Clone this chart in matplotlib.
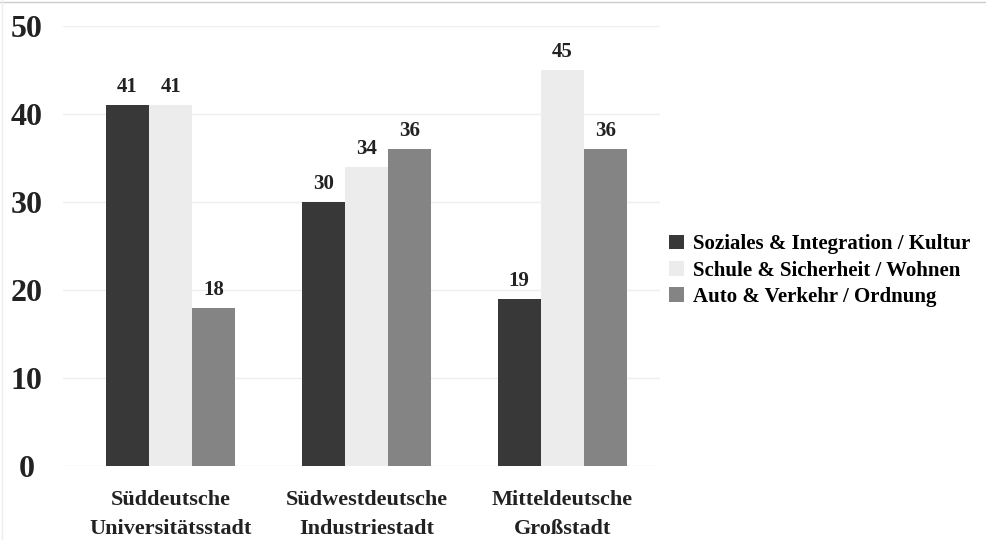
import numpy as np
import matplotlib.pyplot as plt
from matplotlib.patches import Patch

# Daten
staedte = ["Süddeutsche\nUniversitätsstadt", "Südwestdeutsche\nIndustriestadt", "Mitteldeutsche\nGroßstadt"]
serien = ["Soziales & Integration / Kultur", "Schule & Sicherheit / Wohnen", "Auto & Verkehr / Ordnung"]
soziales = [41, 30, 19]
schule = [41, 34, 45]
auto = [18, 36, 36]
farben = ["#383838", "#ececec", "#848484"]
y_ticks = [0, 10, 20, 30, 40, 50]

plt.rcParams['font.family'] = ['Liberation Serif', 'DejaVu Serif']
plt.rcParams['font.weight'] = 'bold'

fig = plt.figure(figsize=(9.86, 5.4), dpi=100)
ax = fig.add_axes([63 / 986, 1 - 466 / 540, (660 - 63) / 986, (466 - 26) / 540])

x = np.arange(len(staedte))
breite = 0.22
werte = [soziales, schule, auto]
for i, (vals, farbe) in enumerate(zip(werte, farben)):
    pos = x + (i - 1) * breite
    bars = ax.bar(pos, vals, width=breite, color=farbe, zorder=2)
    for b, v in zip(bars, vals):
        ax.text(b.get_x() + b.get_width() / 2, v + 0.9, str(v), ha='center', va='bottom',
                fontsize=15, fontweight='bold', color='#222222')

ax.set_xlim(-0.55, 2.5)
ax.set_ylim(0, 50)
ax.set_yticks(y_ticks)
ax.set_yticklabels([str(t) for t in y_ticks], fontsize=23, fontweight='bold', color='#222222', ha='center')
ax.tick_params(axis='y', length=0, pad=26)
ax.set_xticks(x)
ax.set_xticklabels(staedte, fontsize=16, fontweight='bold', color='#222222', linespacing=1.6)
ax.tick_params(axis='x', length=0, pad=17)
ax.grid(axis='y', color='#eeeeee', linewidth=1, zorder=0)
for s in ax.spines.values():
    s.set_visible(False)

handles = [Patch(facecolor=f, edgecolor='none') for f in farben]
fig.legend(handles, serien, loc='upper left', bbox_to_anchor=(661 / 986, 1 - 226 / 540),
           frameon=False, prop={'family': ['Liberation Serif'], 'weight': 'bold', 'size': 15},
           handlelength=0.7, handleheight=0.7, handletextpad=0.45, labelspacing=0.3, borderaxespad=0)

# dünner Rahmen oben/links wie im Original
fig.add_artist(plt.Line2D([0, 1], [1 - 2 / 540, 1 - 2 / 540], color='#cccccc', linewidth=1))
fig.add_artist(plt.Line2D([2 / 986, 2 / 986], [0, 1], color='#eeeeee', linewidth=1))

fig.savefig('out.png', dpi=100)
